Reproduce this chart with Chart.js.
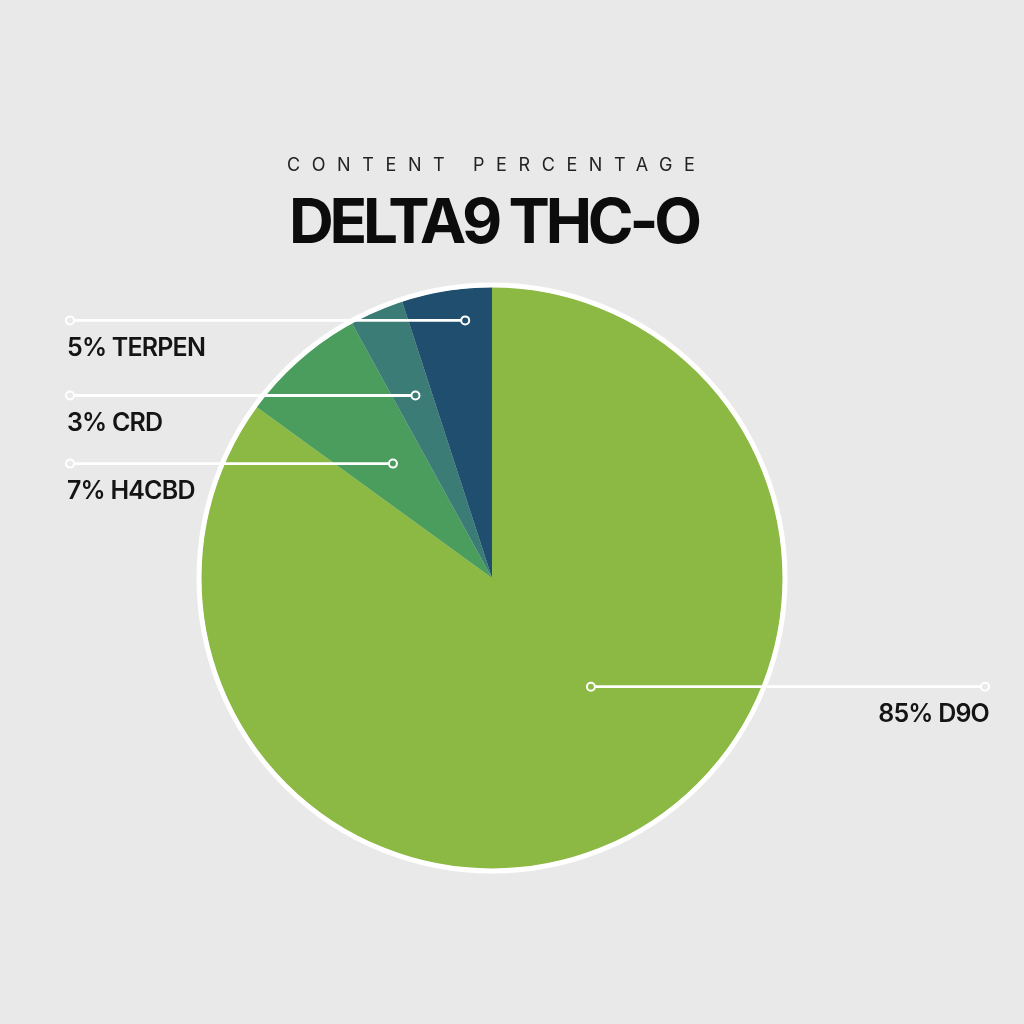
<!DOCTYPE html>
<html>
<head>
<meta charset="utf-8">
<script src="https://cdn.jsdelivr.net/npm/chart.js@4/dist/chart.umd.min.js"></script>
<style>
  html, body { margin: 0; padding: 0; background: #e9e9e9; }
  #wrap { position: relative; width: 1024px; height: 1024px; }
  #sub { position: absolute; left: 287px; top: 154px; white-space: nowrap;
         font: 400 18px Inter, sans-serif; letter-spacing: 11.6px; color: #222; }
  #head { position: absolute; left: 289px; top: 183px; white-space: nowrap;
          font: 700 62px Inter, sans-serif; letter-spacing: -4.2px; color: #0c0c0c; }
  canvas { position: absolute; left: 0; top: 0; }
</style>
</head>
<body>
<div id="wrap">
  <canvas id="pieChart" width="1024" height="1024"></canvas>
  <div id="sub">CONTENT PERCENTAGE</div>
  <div id="head">DELTA9 THC-O</div>
</div>
<script>
const categories = ['D9O', 'H4CBD', 'CRD', 'TERPEN'];
const percentages = [85, 7, 3, 5];
const sliceColors = ['#8cb944', '#4a9d5c', '#3b7c77', '#1f4e6e'];

// where each callout leaves its slice: fraction along the slice angle, fraction of radius
const calloutAngleFrac = [0.45, 0.52, 0.56, 0.67];
const calloutRadiusFrac = [0.505, 0.52, 0.68, 0.89];

const calloutPlugin = {
    id: 'callouts',
    afterDatasetsDraw(chart) {
        const ctx = chart.ctx;
        const arcs = chart.getDatasetMeta(0).data;
        const cx = arcs[0].x, cy = arcs[0].y, r = arcs[0].outerRadius;

        // white rim around the pie
        ctx.save();
        ctx.beginPath();
        ctx.arc(cx, cy, r + 2, 0, Math.PI * 2);
        ctx.strokeStyle = '#ffffff';
        ctx.lineWidth = 5;
        ctx.stroke();

        arcs.forEach(function(arc, i) {
            const a = arc.startAngle + (arc.endAngle - arc.startAngle) * calloutAngleFrac[i];
            const px = cx + Math.cos(a) * r * calloutRadiusFrac[i];
            const py = cy + Math.sin(a) * r * calloutRadiusFrac[i];
            const right = px > cx;
            const ex = right ? 985 : 70;

            ctx.beginPath();
            ctx.moveTo(px, py);
            ctx.lineTo(ex, py);
            ctx.strokeStyle = '#ffffff';
            ctx.lineWidth = 2.8;
            ctx.stroke();

            [[px, sliceColors[i]], [ex, '#e9e9e9']].forEach(function(d) {
                ctx.beginPath();
                ctx.arc(d[0], py, 4, 0, Math.PI * 2);
                ctx.fillStyle = d[1];
                ctx.fill();
                ctx.lineWidth = 2;
                ctx.stroke();
            });

            ctx.fillStyle = '#141414';
            ctx.font = '600 25px Inter, sans-serif';
            ctx.letterSpacing = '-0.8px';
            ctx.textBaseline = 'middle';
            ctx.textAlign = right ? 'right' : 'left';
            ctx.fillText(percentages[i] + '% ' + categories[i], right ? ex + 4 : ex - 3, py + 28);
        });
        ctx.restore();
    }
};

const chart = new Chart(document.getElementById('pieChart').getContext('2d'), {
    type: 'pie',
    data: {
        labels: categories,
        datasets: [{
            data: percentages,
            backgroundColor: sliceColors,
            borderWidth: 0
        }]
    },
    options: {
        responsive: false,
        animation: false,
        layout: { padding: { left: 201, right: 241, top: 287, bottom: 155 } },
        plugins: {
            legend: { display: false },
            tooltip: { enabled: false }
        }
    },
    plugins: [calloutPlugin]
});
</script>
</body>
</html>
